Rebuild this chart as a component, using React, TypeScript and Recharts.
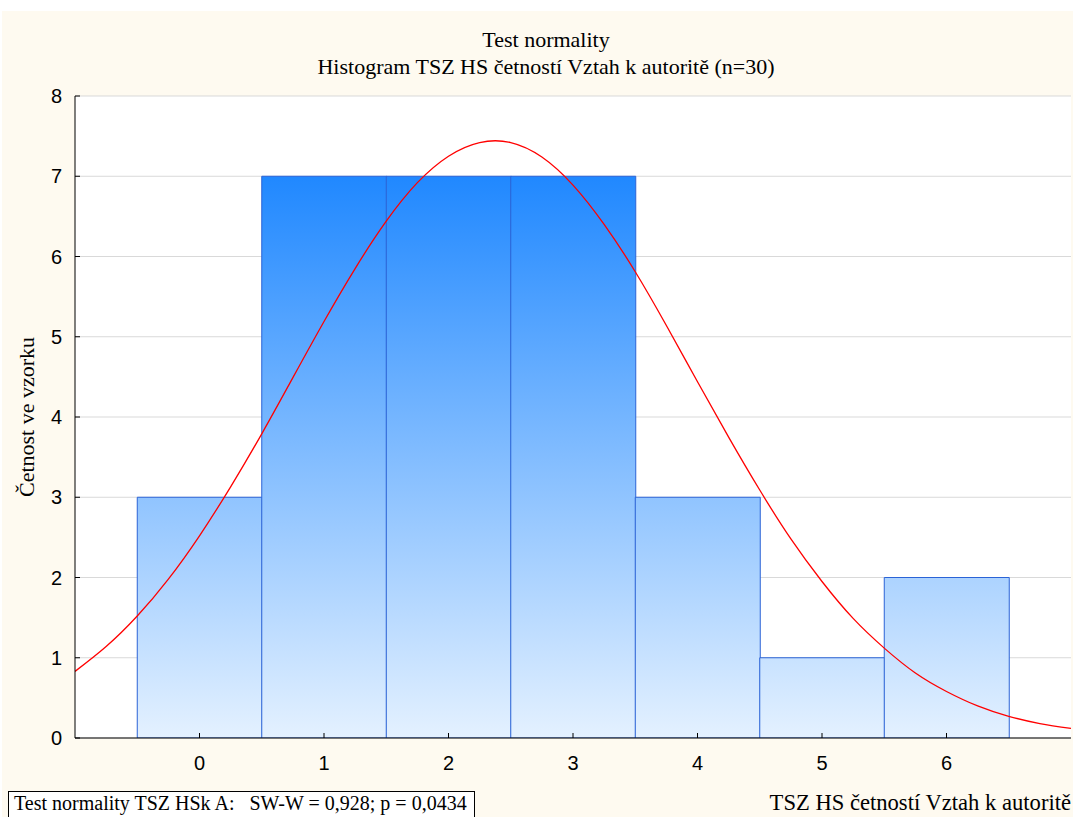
import React from 'react';
import { ComposedChart, Bar, Line, XAxis, YAxis, CartesianGrid } from 'recharts';

// Histogram bins (class centre) and observed counts
const binCenters = [0, 1, 2, 3, 4, 5, 6];
const binCounts = [3, 7, 7, 7, 3, 1, 2];

// Expected normal curve at 0.25 steps
const curveX = [-1, -0.75, -0.5, -0.25, 0, 0.25, 0.5, 0.75, 1, 1.25, 1.5, 1.75, 2, 2.25, 2.5, 2.75, 3, 3.25, 3.5, 3.75, 4, 4.25, 4.5, 4.75, 5, 5.25, 5.5, 5.75, 6, 6.25, 6.5, 6.75, 7];
const curveY = [0.83, 1.14, 1.52, 1.98, 2.52, 3.13, 3.79, 4.49, 5.19, 5.85, 6.44, 6.92, 7.25, 7.42, 7.42, 7.24, 6.89, 6.40, 5.81, 5.14, 4.44, 3.75, 3.09, 2.48, 1.95, 1.49, 1.12, 0.81, 0.58, 0.40, 0.27, 0.18, 0.12];

const xTicks = [0, 1, 2, 3, 4, 5, 6];
const yTicks = [0, 1, 2, 3, 4, 5, 6, 7, 8];
const xDomain = [-1, 7];

const title = 'Test normality';
const subtitle = 'Histogram TSZ HS četností Vztah k autoritě (n=30)';
const yLabel = 'Četnost ve vzorku';
const xLabel = 'TSZ HS četností Vztah k autoritě';
const testNote = 'Test normality TSZ HSk A:\u00a0\u00a0\u00a0SW-W = 0,928; p = 0,0434';

const barData = binCenters.map((x, i) => ({ x, count: binCounts[i] }));
const curveData = curveX.map((x, i) => ({ x, y: curveY[i] }));

const serif = '"Liberation Serif", "Times New Roman", serif';
const sans = '"Liberation Sans", Arial, sans-serif';

export default function App() {
  return (
    <div style={{ position: 'fixed', left: 0, top: 0, width: 1073, height: 817, background: '#ffffff', overflow: 'hidden' }}>
      <div style={{ position: 'absolute', left: 2, top: 11, width: 1071, height: 806, background: '#fefaf0' }} />
      <div style={{ position: 'absolute', left: 0, top: 0 }}>
        <ComposedChart
          width={1073}
          height={817}
          data={barData}
          margin={{ top: 96, right: 2, bottom: 39, left: 15 }}
          barCategoryGap={0}
          barGap={0}
        >
          <defs>
            <linearGradient id="barGrad" gradientUnits="userSpaceOnUse" x1="0" y1="176" x2="0" y2="738">
              <stop offset="0%" stopColor="#2088ff" />
              <stop offset="100%" stopColor="#e4f1ff" />
            </linearGradient>
          </defs>
          <CartesianGrid vertical={false} stroke="#d9d9d9" fill="#ffffff" fillOpacity={1} xAxisId="bottom" yAxisId="left" />
          <XAxis
            xAxisId="bottom"
            type="number"
            dataKey="x"
            domain={xDomain}
            ticks={xTicks}
            allowDataOverflow
            height={40}
            tickSize={-5}
            tickMargin={23}
            axisLine={{ stroke: '#000000' }}
            tickLine={{ stroke: '#000000' }}
            tick={{ fill: '#000000', fontSize: 20, fontFamily: sans }}
            interval={0}
          />
          <XAxis
            xAxisId="top"
            orientation="top"
            type="number"
            dataKey="x"
            domain={xDomain}
            ticks={xTicks}
            allowDataOverflow
            height={0}
            tickSize={-5}
            tickFormatter={() => ''}
            axisLine={{ stroke: '#000000' }}
            tickLine={{ stroke: '#000000' }}
            interval={0}
          />
          <YAxis
            yAxisId="left"
            type="number"
            domain={[0, 8]}
            ticks={yTicks}
            allowDataOverflow
            width={60}
            tickSize={-5}
            tickMargin={18}
            axisLine={{ stroke: '#000000' }}
            tickLine={{ stroke: '#000000' }}
            tick={{ fill: '#000000', fontSize: 20, fontFamily: sans }}
            interval={0}
          />
          <YAxis
            yAxisId="right"
            orientation="right"
            type="number"
            domain={[0, 8]}
            ticks={yTicks}
            allowDataOverflow
            width={0}
            tickSize={-5}
            tickFormatter={() => ''}
            axisLine={{ stroke: '#000000' }}
            tickLine={{ stroke: '#000000' }}
            interval={0}
          />
          <Bar
            xAxisId="bottom"
            yAxisId="left"
            dataKey="count"
            fill="url(#barGrad)"
            stroke="#2b63d6"
            strokeWidth={1}
            isAnimationActive={false}
          />
          <Line
            xAxisId="top"
            yAxisId="left"
            data={curveData}
            dataKey="y"
            type="natural"
            stroke="#ff0000"
            strokeWidth={1.3}
            dot={false}
            activeDot={false}
            isAnimationActive={false}
          />
        </ComposedChart>
      </div>
      <svg width={1073} height={817} style={{ position: 'absolute', left: 0, top: 0, pointerEvents: 'none' }}>
        <text x={546} y={47} textAnchor="middle" fontFamily={serif} fontSize={22} fill="#000">{title}</text>
        <text x={546} y={74} textAnchor="middle" fontFamily={serif} fontSize={22} fill="#000">{subtitle}</text>
        <text x={34} y={417} textAnchor="middle" fontFamily={serif} fontSize={22} fill="#000" transform="rotate(-90, 34, 417)">{yLabel}</text>
        <rect x={8.5} y={791.5} width={466} height={40} fill="#ffffff" stroke="#000" strokeWidth={1} />
        <text x={14} y={810} fontFamily={serif} fontSize={20} fill="#000">{testNote}</text>
        <text x={1071} y={810} textAnchor="end" fontFamily={serif} fontSize={22.6} fill="#000">{xLabel}</text>
      </svg>
    </div>
  );
}
